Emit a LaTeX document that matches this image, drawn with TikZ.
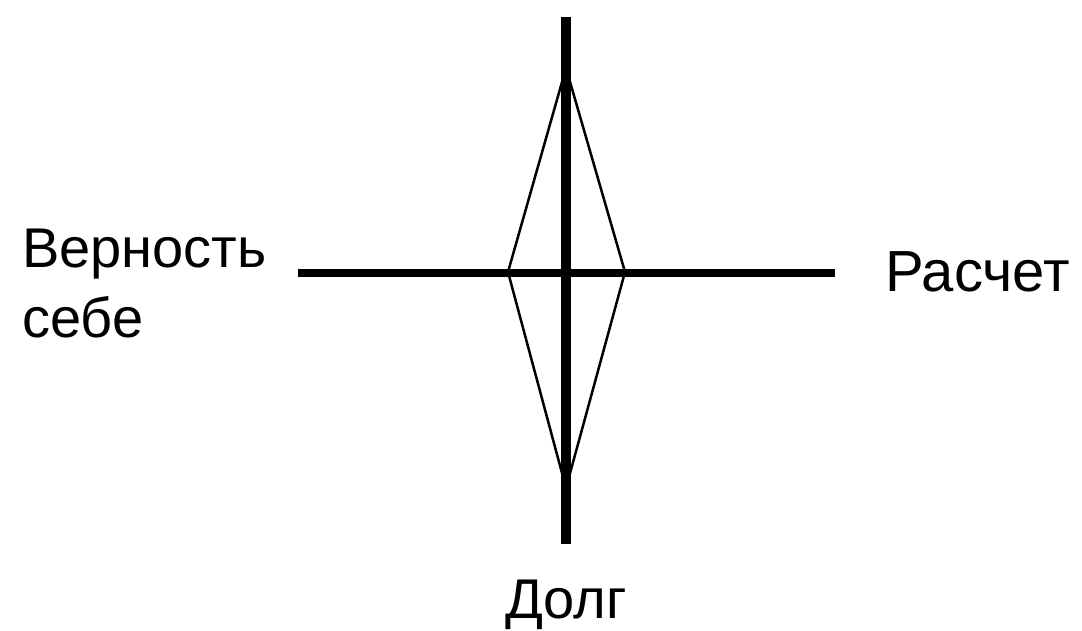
\documentclass[tikz,border=0pt]{standalone}
\usepackage{fontspec}
\setmainfont{Liberation Sans}
\begin{document}
\begin{tikzpicture}[x=1pt,y=-1pt,
  axis/.style={line width=10pt,line cap=butt},
  haxis/.style={line width=8pt,line cap=butt},
  thin edge/.style={line width=2.5pt,line join=miter},
  lbl/.style={inner sep=0pt,font=\fontsize{56}{70}\selectfont}]
\useasboundingbox (0,0) rectangle (1082,631);
\fill[white] (0,0) rectangle (1082,631);
\coordinate (vt) at (566,17);
\coordinate (vb) at (566,544);
\coordinate (hl) at (298,273);
\coordinate (hr) at (835,273);
\coordinate (dt) at (566,68);
\coordinate (dl) at (508,272);
\coordinate (db) at (566,488);
\coordinate (dr) at (625,272);
\draw[thin edge] (dt) -- (dl) -- (db) -- (dr) -- cycle;
\draw[axis] (vt) -- (vb);
\draw[haxis] (hl) -- (hr);
\node[lbl,anchor=base west,align=left] (ver) at (22,337) {Верность\\себе};
\node[lbl,anchor=base west,font=\fontsize{58}{70}\selectfont] (ras) at (885,291) {Расчет};
\node[lbl,anchor=base] (dol) at (566,618) {Долг};
\end{tikzpicture}
\end{document}
